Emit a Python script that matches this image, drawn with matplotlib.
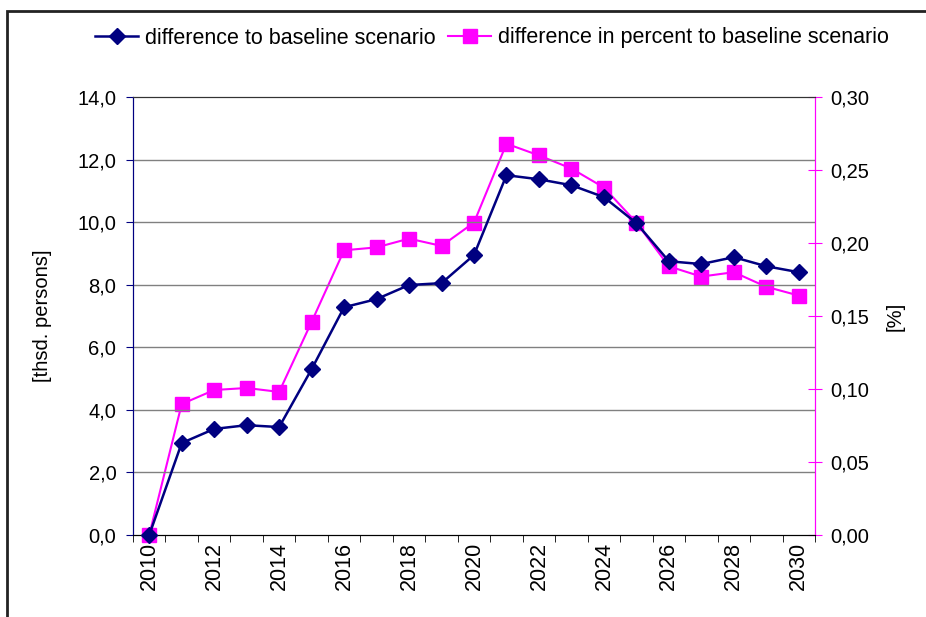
import matplotlib
matplotlib.use('Agg')
import matplotlib.pyplot as plt
from matplotlib.ticker import FuncFormatter, FixedLocator
from matplotlib.lines import Line2D
from matplotlib.patches import Rectangle

plt.rcParams['font.family'] = ['Liberation Sans', 'DejaVu Sans']

years = list(range(2010, 2031))
diff_abs = [0.0, 2.94, 3.39, 3.51, 3.45, 5.30, 7.28, 7.54, 7.99, 8.05, 8.95,
            11.50, 11.37, 11.18, 10.80, 9.97, 8.75, 8.66, 8.88, 8.59, 8.40]
diff_pct = [0.0, 0.0897, 0.0993, 0.1007, 0.098, 0.146, 0.195, 0.197, 0.203, 0.198, 0.214,
            0.268, 0.260, 0.251, 0.238, 0.214, 0.184, 0.177, 0.180, 0.170, 0.164]
year_labels = [str(y) if y % 2 == 0 else '' for y in years]

navy = '#000080'
magenta = '#FF00FF'
fs = 14.5

fig = plt.figure(figsize=(9.26, 6.17), dpi=100)
ax = fig.add_axes([133 / 926, 1 - 535 / 617, (815 - 133) / 926, (535 - 97) / 617])
ax2 = ax.twinx()

x = list(range(len(years)))
ax.plot(x, diff_abs, color=navy, marker='D', markersize=8.5, linewidth=1.8, clip_on=False, zorder=5)
ax2.plot(x, diff_pct, color=magenta, marker='s', markersize=9.5, linewidth=1.5, clip_on=False, zorder=4)
ax.set_zorder(ax2.get_zorder() + 1)
ax.patch.set_visible(False)

ax.set_xlim(-0.5, len(years) - 0.5)
ax.set_ylim(0, 14)
ax2.set_ylim(0, 0.30)

comma = lambda fmt: FuncFormatter(lambda v, p: (fmt % v).replace('.', ','))
ax.set_yticks([0, 2, 4, 6, 8, 10, 12, 14])
ax.yaxis.set_major_formatter(comma('%.1f'))
ax2.set_yticks([0, 0.05, 0.10, 0.15, 0.20, 0.25, 0.30])
ax2.yaxis.set_major_formatter(comma('%.2f'))

ax.set_xticks(x)
ax.set_xticklabels(year_labels, rotation=90, fontsize=15.5)
ax.tick_params(axis='x', length=0, pad=5)
ax.xaxis.set_minor_locator(FixedLocator([i - 0.5 for i in range(len(years) + 1)]))
ax.tick_params(axis='x', which='minor', length=5, color='black', direction='out')

ax.tick_params(axis='y', labelsize=fs, length=5, color=navy, direction='out', pad=7)
ax2.tick_params(axis='y', labelsize=fs, length=10, color=magenta, direction='inout', pad=6)

for y in [2, 4, 6, 8, 10, 12]:
    ax.axhline(y, color='#808080', linewidth=1, zorder=0)

for a in (ax, ax2):
    a.spines['top'].set_color('#333333')
    a.spines['bottom'].set_color('black')
    a.spines['left'].set_color(navy)
    a.spines['right'].set_color(magenta)

ax.set_ylabel('[thsd. persons]', fontsize=fs, labelpad=18)
ax2.set_ylabel('[%]', fontsize=fs, labelpad=12)

handles = [Line2D([], [], color=navy, marker='D', markersize=8.5, linewidth=1.8),
           Line2D([], [], color=magenta, marker='s', markersize=9.5, linewidth=1.5)]
fig.legend(handles, ['difference to baseline scenario', 'difference in percent to baseline scenario'],
           loc='center', bbox_to_anchor=(492 / 926, 1 - 38 / 617), ncol=2, frameon=False,
           fontsize=15.5, handlelength=2.0, columnspacing=0.6, handletextpad=0.3)

fig.patches.append(Rectangle((7 / 926, -0.1), 1.2, 1 - 11 / 617 + 0.1, transform=fig.transFigure,
                             fill=False, edgecolor='#222222', linewidth=2))

fig.savefig('out.png', dpi=100)
